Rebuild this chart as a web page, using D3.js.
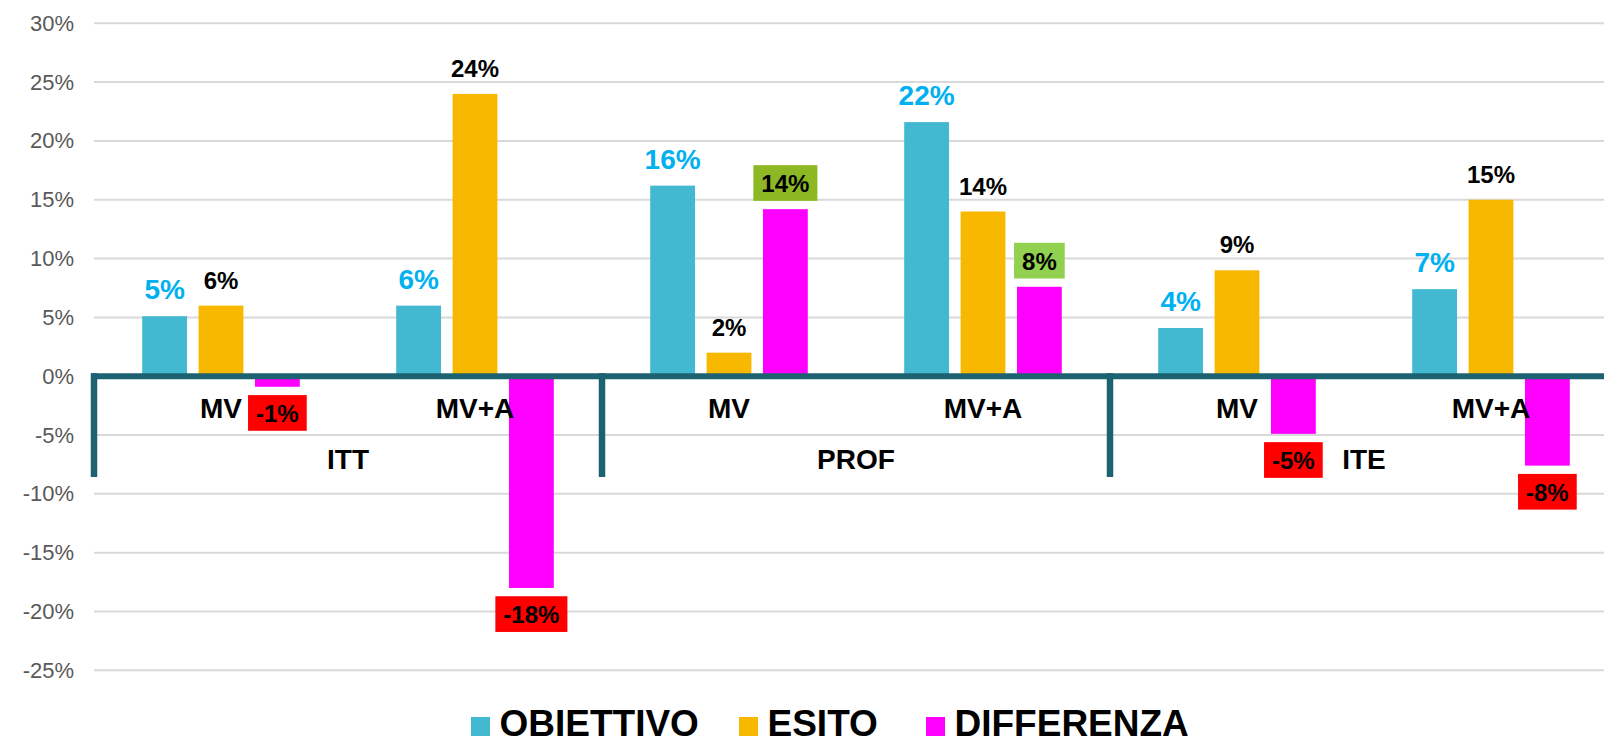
<!DOCTYPE html>
<html>
<head>
<meta charset="utf-8">
<script src="https://cdn.jsdelivr.net/npm/d3@7"></script>
<style>
  html, body { margin: 0; padding: 0; background: #ffffff; }
  svg { display: block; font-family: "Liberation Sans", Arial, sans-serif; }
</style>
</head>
<body>
<svg id="chart" width="1604" height="744"></svg>
<script>
// ---- data ----
const groups = ["ITT", "PROF", "ITE"];
const subCategories = ["MV", "MV+A", "MV", "MV+A", "MV", "MV+A"];
const categoryGroup = ["ITT", "ITT", "PROF", "PROF", "ITE", "ITE"];
const seriesNames = ["OBIETTIVO", "ESITO", "DIFFERENZA"];
const obiettivo = [5.1, 6.0, 16.2, 21.6, 4.1, 7.4];
const esito = [6.0, 24.0, 2.0, 14.0, 9.0, 15.0];
const differenza = [-0.9, -18.0, 14.2, 7.6, -4.9, -7.6];
const yTicks = [30, 25, 20, 15, 10, 5, 0, -5, -10, -15, -20, -25];

// ---- styles ----
const seriesColors = ["#42B8D1", "#F9B800", "#FF00FF"];
const diffBoxColors = ["#FF0000", "#FF0000", "#8DB823", "#92D050", "#FF0000", "#FF0000"];
const axisColor = "#1C6271";

const svg = d3.select("#chart");
const W = 1604;

const catIdx = d3.range(subCategories.length);
const x = d3.scaleBand().domain(catIdx).range([94, 1618]).padding(0);
const xs = d3.scaleBand().domain(seriesNames).range([0, x.bandwidth()])
  .paddingInner(0.205).paddingOuter(0.855);
const y = d3.scaleLinear().domain([-25, 30]).range([670.3, 23.3]);

// gridlines
svg.append("g").selectAll("line").data(yTicks).join("line")
  .attr("x1", 94).attr("x2", W)
  .attr("y1", d => y(d)).attr("y2", d => y(d))
  .attr("stroke", "#D9D9D9").attr("stroke-width", 2);

// y axis labels
const yAxis = d3.axisLeft(y).tickValues(yTicks).tickFormat(d => d + "%").tickSize(0).tickPadding(0);
const yg = svg.append("g").attr("transform", "translate(74,0)").call(yAxis);
yg.select(".domain").remove();
yg.selectAll("text").attr("fill", "#595959").attr("font-size", 22)
  .attr("font-family", "Liberation Sans, Arial, sans-serif");

// bars
const seriesData = [obiettivo, esito, differenza];
const barData = [];
seriesData.forEach((arr, si) => arr.forEach((v, ci) => barData.push({ si, ci, v })));

svg.append("g").selectAll("rect").data(barData).join("rect")
  .attr("x", d => x(d.ci) + xs(seriesNames[d.si]))
  .attr("width", xs.bandwidth())
  .attr("y", d => y(Math.max(0, d.v)))
  .attr("height", d => Math.abs(y(d.v) - y(0)))
  .attr("fill", d => seriesColors[d.si]);

// axis line & group separators
svg.append("line").attr("x1", 91).attr("x2", W).attr("y1", y(0)).attr("y2", y(0))
  .attr("stroke", axisColor).attr("stroke-width", 6);
const groupStarts = groups.map(g => x(categoryGroup.indexOf(g)));
svg.append("g").selectAll("line").data(groupStarts).join("line")
  .attr("x1", d => d).attr("x2", d => d)
  .attr("y1", y(0) - 3).attr("y2", 477)
  .attr("stroke", axisColor).attr("stroke-width", 6.5);

// category labels
svg.append("g").selectAll("text").data(catIdx).join("text")
  .attr("x", d => x(d) + x.bandwidth() / 2).attr("y", 418)
  .attr("text-anchor", "middle").attr("font-size", 28).attr("font-weight", "bold")
  .attr("fill", "#000").text(d => subCategories[d]);
svg.append("g").selectAll("text").data(groups).join("text")
  .attr("x", g => {
    const idx = catIdx.filter(i => categoryGroup[i] === g);
    return (x(idx[0]) + x(idx[idx.length - 1]) + x.bandwidth()) / 2;
  })
  .attr("y", 468.5)
  .attr("text-anchor", "middle").attr("font-size", 28).attr("font-weight", "bold")
  .attr("fill", "#000").text(g => g);

// value labels
const fmt = v => Math.round(v) + "%";
const lg = svg.append("g");
barData.forEach(d => {
  const cx = x(d.ci) + xs(seriesNames[d.si]) + xs.bandwidth() / 2;
  if (d.si === 0) {
    lg.append("text").attr("x", cx).attr("y", y(d.v) - 17)
      .attr("text-anchor", "middle").attr("font-size", 28).attr("font-weight", "bold")
      .attr("fill", "#00B0F0").text(fmt(d.v));
  } else if (d.si === 1) {
    lg.append("text").attr("x", cx).attr("y", y(d.v) - 17)
      .attr("text-anchor", "middle").attr("font-size", 24).attr("font-weight", "bold")
      .attr("fill", "#000").text(fmt(d.v));
  } else {
    const base = d.v >= 0 ? y(d.v) - 17 : y(d.v) + 8.3 + 27;
    const box = lg.append("rect").attr("fill", diffBoxColors[d.ci]);
    const t = lg.append("text").attr("x", cx).attr("y", base)
      .attr("text-anchor", "middle").attr("font-size", 24).attr("font-weight", "bold")
      .attr("fill", "#000").text(fmt(d.v));
    const tw = t.node().getComputedTextLength();
    box.attr("x", cx - tw / 2 - 8).attr("width", tw + 16)
      .attr("y", base - 27).attr("height", 35.7);
  }
});

// legend
const legendSquares = [471, 739, 926];
const leg = svg.append("g");
seriesNames.forEach((s, i) => {
  leg.append("rect").attr("x", legendSquares[i]).attr("y", 717)
    .attr("width", 19).attr("height", 19).attr("fill", seriesColors[i]);
  leg.append("text").attr("x", legendSquares[i] + 28.5).attr("y", 736)
    .attr("font-size", 37).attr("font-weight", "bold").attr("fill", "#000").text(s);
});
</script>
</body>
</html>
